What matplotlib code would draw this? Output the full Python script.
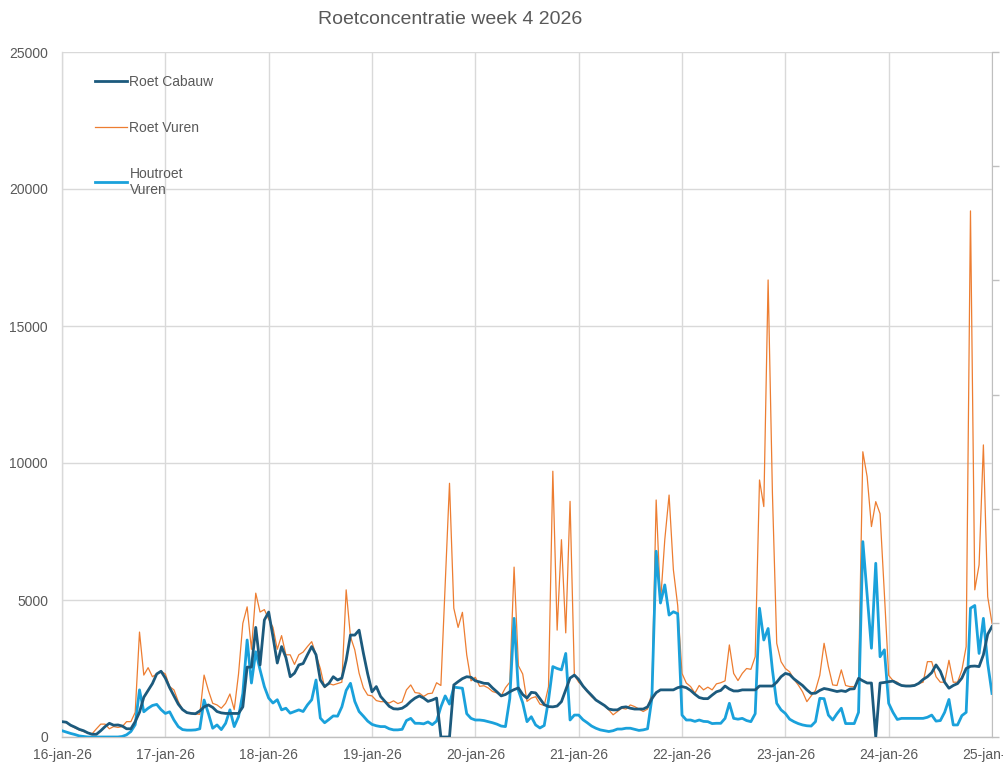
import matplotlib
matplotlib.use("Agg")
import matplotlib.pyplot as plt
import matplotlib.dates as mdates
from matplotlib.ticker import FixedLocator, NullFormatter
import pandas as pd

# Hourly measurements, 16-jan-26 00:00 .. 25-jan-26 00:00 (217 points)
roet_cabauw = [
    560, 540, 430, 360, 280, 230, 150, 100, 100, 230, 380, 500, 430, 440, 400, 300, 300, 560, 900, 1450, 1700, 1950, 2300, 2400,
    2150, 1800, 1500, 1200, 1000, 890, 860, 850, 950, 1100, 1170, 1080, 930, 880, 860, 860, 860, 860, 1100, 2550, 2550, 4000, 2630, 4270,
    4560, 3660, 2700, 3300, 2900, 2200, 2330, 2630, 2680, 3000, 3300, 3000, 2080, 1840, 1960, 2200, 2080, 2150, 2800, 3720, 3720, 3900, 3060, 2300,
    1650, 1840, 1480, 1300, 1120, 1030, 1020, 1050, 1150, 1300, 1420, 1500, 1420, 1300, 1350, 1420, 0, 0, 0, 1900, 2020, 2130, 2200, 2180,
    2050, 2010, 1960, 1950, 1790, 1650, 1500, 1550, 1650, 1730, 1790, 1550, 1420, 1630, 1610, 1400, 1180, 1110, 1100, 1130, 1290, 1720, 2150, 2260,
    2100, 1860, 1680, 1520, 1350, 1250, 1150, 1020, 990, 990, 1080, 1100, 1050, 1020, 1020, 1020, 1100, 1400, 1620, 1720, 1720, 1720, 1720, 1800,
    1840, 1800, 1700, 1560, 1440, 1400, 1400, 1530, 1650, 1700, 1860, 1750, 1680, 1680, 1720, 1720, 1720, 1720, 1860, 1860, 1860, 1860, 2000, 2200,
    2320, 2280, 2120, 2000, 1880, 1720, 1590, 1600, 1700, 1770, 1740, 1700, 1660, 1690, 1660, 1750, 1760, 2140, 2050, 1970, 1970, 0, 1970, 1990,
    2020, 2040, 1950, 1880, 1860, 1860, 1880, 1960, 2100, 2200, 2350, 2630, 2400, 2000, 1780, 1880, 1950, 2150, 2500, 2580, 2590, 2570, 3000, 3750,
    4030,
]

roet_vuren = [
    560, 520, 420, 330, 260, 200, 150, 120, 300, 470, 470, 300, 380, 350, 380, 560, 560, 900, 3830, 2260, 2530, 2200, 2300, 2400,
    2300, 1840, 1720, 1300, 1000, 890, 860, 840, 830, 2260, 1700, 1230, 1170, 1050, 1230, 1570, 1000, 2300, 4150, 4750, 3200, 5250, 4560, 4650,
    4300, 4000, 3200, 3700, 3000, 3000, 2650, 3000, 3100, 3300, 3480, 3000, 2500, 1800, 1950, 1900, 1950, 2000, 5370, 3660, 3180, 2330, 1790, 1530,
    1500, 1330, 1290, 1290, 1240, 1320, 1220, 1280, 1720, 1900, 1620, 1600, 1480, 1580, 1600, 1980, 1880, 5600, 9260, 4700, 4000, 4550, 3000, 2050,
    2180, 1850, 1870, 1790, 1660, 1610, 1500, 1800, 2000, 6200, 2600, 2300, 1300, 1420, 1470, 1200, 1150, 1840, 9700, 3900, 7200, 3800, 8600, 2260,
    2000, 1850, 1650, 1470, 1350, 1250, 1150, 990, 810, 930, 1050, 1020, 1170, 1110, 1020, 930, 1020, 1600, 8650, 4900, 7200, 8830, 6100, 4800,
    2320, 1970, 1840, 1600, 1880, 1720, 1820, 1720, 1940, 1980, 2050, 3360, 2320, 2060, 2320, 2500, 2470, 2930, 9380, 8410, 16680, 8900, 3420, 2750,
    2500, 2380, 2100, 1900, 1650, 1290, 1500, 1700, 2250, 3420, 2570, 1900, 1880, 2450, 1880, 1840, 1840, 2000, 10410, 9500, 7680, 8590, 8150, 5240,
    2250, 2060, 2000, 1880, 1880, 1880, 1900, 1950, 2000, 2750, 2750, 2200, 2000, 2000, 2800, 2000, 2000, 2440, 3300, 19200, 5370, 6280, 10660, 5120,
    4150,
]

houtroet_vuren = [
    230, 180, 130, 90, 40, 20, 0, 0, 0, 0, 0, 0, 0, 0, 20, 80, 200, 450, 1720, 920, 1050, 1150, 1190, 1000,
    860, 920, 620, 380, 270, 250, 250, 260, 300, 1350, 860, 320, 440, 270, 500, 990, 380, 740, 1590, 3540, 1970, 3110, 2450, 1840,
    1420, 1240, 1360, 990, 1050, 870, 930, 990, 930, 1170, 1360, 2080, 690, 520, 640, 770, 760, 1100, 1700, 1960, 1300, 930, 760, 580,
    460, 410, 380, 380, 300, 260, 260, 280, 600, 680, 500, 500, 480, 550, 450, 580, 1100, 1500, 1200, 1820, 1800, 1780, 850, 680,
    620, 620, 600, 560, 520, 470, 400, 380, 1400, 4330, 1700, 1250, 560, 740, 440, 330, 420, 1350, 2570, 2500, 2450, 3050, 620, 800,
    800, 630, 520, 400, 320, 260, 230, 200, 230, 290, 290, 320, 320, 280, 240, 260, 300, 1400, 6780, 4890, 5550, 4450, 4570, 4500,
    800, 620, 620, 570, 620, 570, 560, 490, 500, 500, 680, 1230, 680, 650, 680, 600, 560, 850, 4700, 3540, 3960, 2450, 1230, 990,
    860, 650, 560, 490, 440, 410, 400, 560, 1410, 1400, 800, 620, 850, 1050, 490, 490, 490, 900, 7130, 5200, 3240, 6340, 2930, 3180,
    1230, 900, 640, 680, 680, 680, 680, 680, 680, 720, 800, 580, 600, 900, 1370, 440, 440, 780, 900, 4700, 4800, 3050, 4330, 2690,
    1590,
]

day_labels = ["16-jan-26", "17-jan-26", "18-jan-26", "19-jan-26", "20-jan-26",
              "21-jan-26", "22-jan-26", "23-jan-26", "24-jan-26", "25-jan-26"]
y_ticks = [0, 5000, 10000, 15000, 20000, 25000]

times = pd.date_range("2026-01-16 00:00", periods=len(roet_cabauw), freq="h")
days = pd.date_range("2026-01-16", periods=len(day_labels), freq="D")

text_color = "#595959"
grid_color = "#D9D9D9"
font = ["Liberation Sans Narrow", "Liberation Sans", "DejaVu Sans"]
plt.rcParams["font.family"] = font

fig = plt.figure(figsize=(10.04, 7.65), dpi=100)
ax = fig.add_axes([62 / 1004, 1 - 737 / 765, (992 - 62) / 1004, (737 - 52) / 765])

ax.plot(times, roet_vuren, color="#ED7D31", lw=0.9, zorder=3, label="Roet Vuren")
ax.plot(times, houtroet_vuren, color="#1AA1DB", lw=2.0, zorder=4, label="Houtroet\nVuren")
ax.plot(times, roet_cabauw, color="#1C5A7D", lw=2.0, zorder=5, label="Roet Cabauw")

ax.set_xlim(days[0], days[-1])
ax.set_ylim(0, 25000)
ax.xaxis.set_major_locator(FixedLocator(mdates.date2num(days)))
ax.set_xticklabels(day_labels)
ax.set_yticks(y_ticks)
ax.set_yticklabels([str(v) for v in y_ticks])
ax.tick_params(axis="both", length=0, colors=text_color, labelsize=10)
ax.tick_params(axis="x", pad=8)
ax.tick_params(axis="y", pad=10)
for lab in ax.get_xticklabels():
    lab.set_clip_on(False)

ax.grid(True, color=grid_color, lw=1.0, zorder=0)
ax.set_axisbelow(True)
for side in ["top", "right"]:
    ax.spines[side].set_visible(False)
ax.spines["left"].set_color(grid_color)
ax.spines["bottom"].set_color("#BFBFBF")
ax.spines["left"].set_linewidth(1.0)
ax.spines["bottom"].set_linewidth(1.0)

# Secondary axis on the right: spine and tick marks only
ax2 = ax.twinx()
ax2.set_ylim(0, 6)
ax2.yaxis.set_major_locator(FixedLocator(range(7)))
ax2.yaxis.set_major_formatter(NullFormatter())
ax2.tick_params(axis="y", length=5, width=1, color="#BFBFBF", direction="out")
for side in ["top", "left", "bottom"]:
    ax2.spines[side].set_visible(False)
ax2.spines["right"].set_color("#BFBFBF")
ax2.patch.set_visible(False)
ax2.set_zorder(0)

handles, labels = ax.get_legend_handles_labels()
order = [2, 0, 1]
leg = ax.legend([handles[i] for i in order], [labels[i] for i in order],
                loc="upper left", bbox_to_anchor=(0.03, 0.975), frameon=False,
                fontsize=10, labelcolor=text_color, handlelength=2.3,
                handletextpad=0.15, labelspacing=2.3, borderaxespad=0)
leg.set_zorder(10)

fig.text(450 / 1004, 1 - 19 / 765, "Roetconcentratie week 4 2026", ha="center", va="center",
         fontsize=14, color=text_color)

fig.savefig("out.png", dpi=100)
